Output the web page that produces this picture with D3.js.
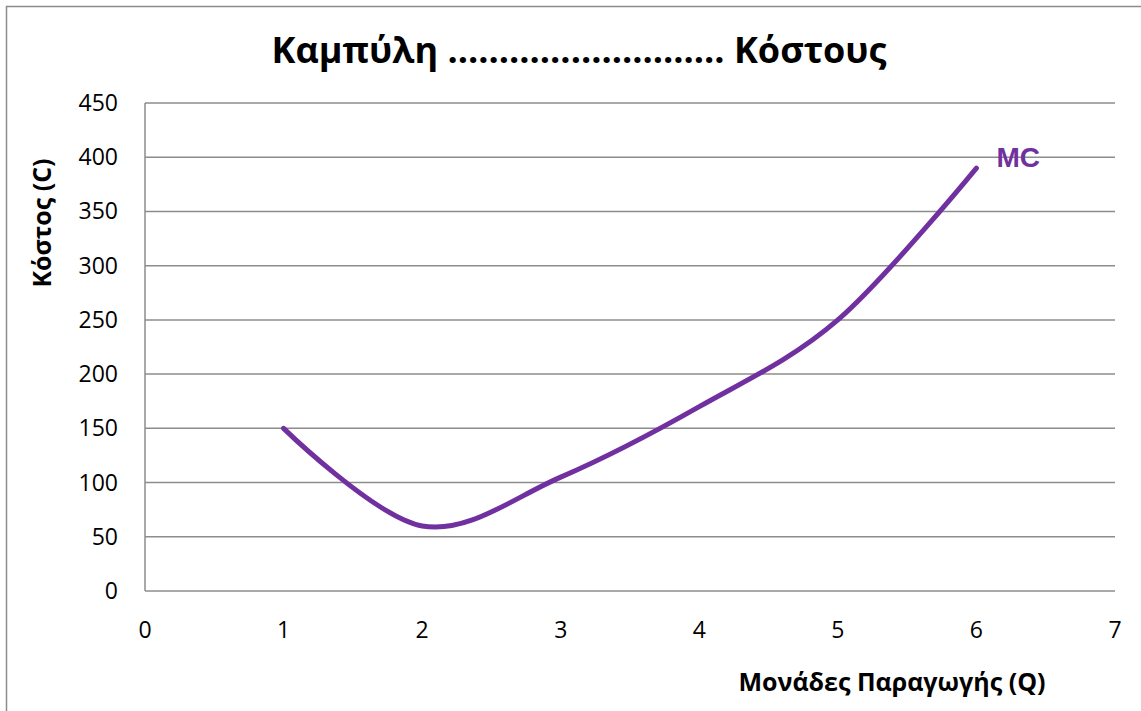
<!DOCTYPE html>
<html><head><meta charset="utf-8">
<script src="https://cdn.jsdelivr.net/npm/d3@7"></script>
<style>body{margin:0;background:#fff;overflow:hidden}</style>
</head><body>
<svg id="c" width="1141" height="711"></svg>
<script>
const quantities = [1, 2, 3, 4, 5, 6];
const mcValues = [150, 60, 105, 170, 250, 390];
const yTicks = [0, 50, 100, 150, 200, 250, 300, 350, 400, 450];
const xTicks = [0, 1, 2, 3, 4, 5, 6, 7];
const title = "Καμπύλη ........................... Κόστους";
const xTitle = "Μονάδες Παραγωγής (Q)";
const yTitle = "Κόστος (C)";
const seriesName = "MC";

const svg = d3.select("#c");
const tickFont = "'Open Sans', 'Noto Sans', sans-serif";
const boldFont = "'Open Sans', 'Noto Sans', sans-serif";

// outer frame
svg.append("path").attr("d", "M6.5,711 V6.5 H1141").attr("fill","none").attr("stroke","#8c8c8c").attr("stroke-width",1.5);

const x = d3.scaleLinear().domain([0,7]).range([145,1115]);
const y = d3.scaleLinear().domain([0,450]).range([591,103]);

// gridlines
svg.append("g").selectAll("line").data(yTicks.filter(d=>d>0)).join("line")
  .attr("x1", x(0)).attr("x2", x(7)).attr("y1", d=>y(d)).attr("y2", d=>y(d))
  .attr("stroke","#8c8c8c").attr("stroke-width",1.5);
// axes lines
svg.append("line").attr("x1",x(0)).attr("x2",x(0)).attr("y1",y(0)).attr("y2",y(450)).attr("stroke","#8c8c8c").attr("stroke-width",1.5);
svg.append("line").attr("x1",x(0)).attr("x2",x(7)).attr("y1",y(0)).attr("y2",y(0)).attr("stroke","#8c8c8c").attr("stroke-width",1.5);

// y tick labels
svg.append("g").selectAll("text").data(yTicks).join("text")
  .attr("x", 118).attr("y", d=>y(d)).attr("dy","0.35em").attr("text-anchor","end")
  .attr("font-family", tickFont).attr("font-size", 23).attr("fill","#000").text(d=>d);
// x tick labels
svg.append("g").selectAll("text").data(xTicks).join("text")
  .attr("x", d=>x(d)).attr("y", 630).attr("dy","0.35em").attr("text-anchor","middle")
  .attr("font-family", tickFont).attr("font-size", 23).attr("fill","#000").text(d=>d);

// line
const pts = quantities.map((q,i)=>[q, mcValues[i]]);
const line = d3.line().x(d=>x(d[0])).y(d=>y(d[1])).curve(d3.curveCardinal.tension(0));
svg.append("path").datum(pts).attr("d", line).attr("fill","none")
  .attr("stroke","#7030A0").attr("stroke-width",5).attr("stroke-linecap","round");

// series label
svg.append("text").attr("x", x(6)+20).attr("y", 157).attr("dy","0.35em")
  .attr("font-family","'Liberation Sans', Arial, sans-serif").attr("font-weight","bold")
  .attr("font-size",28).attr("fill","#7030A0").text(seriesName);

// title
svg.append("text").attr("x", 579).attr("y", 50).attr("dy","0.35em").attr("text-anchor","middle")
  .attr("font-family", boldFont).attr("font-weight","bold").attr("font-size",36).attr("fill","#000").text(title);
// x title
svg.append("text").attr("x", 892).attr("y", 682).attr("dy","0.35em").attr("text-anchor","middle")
  .attr("font-family", boldFont).attr("font-weight","bold").attr("font-size",25).attr("fill","#000").text(xTitle);
// y title
svg.append("text").attr("transform","translate(42,223) rotate(-90)").attr("dy","0.35em").attr("text-anchor","middle")
  .attr("font-family", boldFont).attr("font-weight","bold").attr("font-size",25).attr("fill","#000").text(yTitle);
</script>
</body></html>
